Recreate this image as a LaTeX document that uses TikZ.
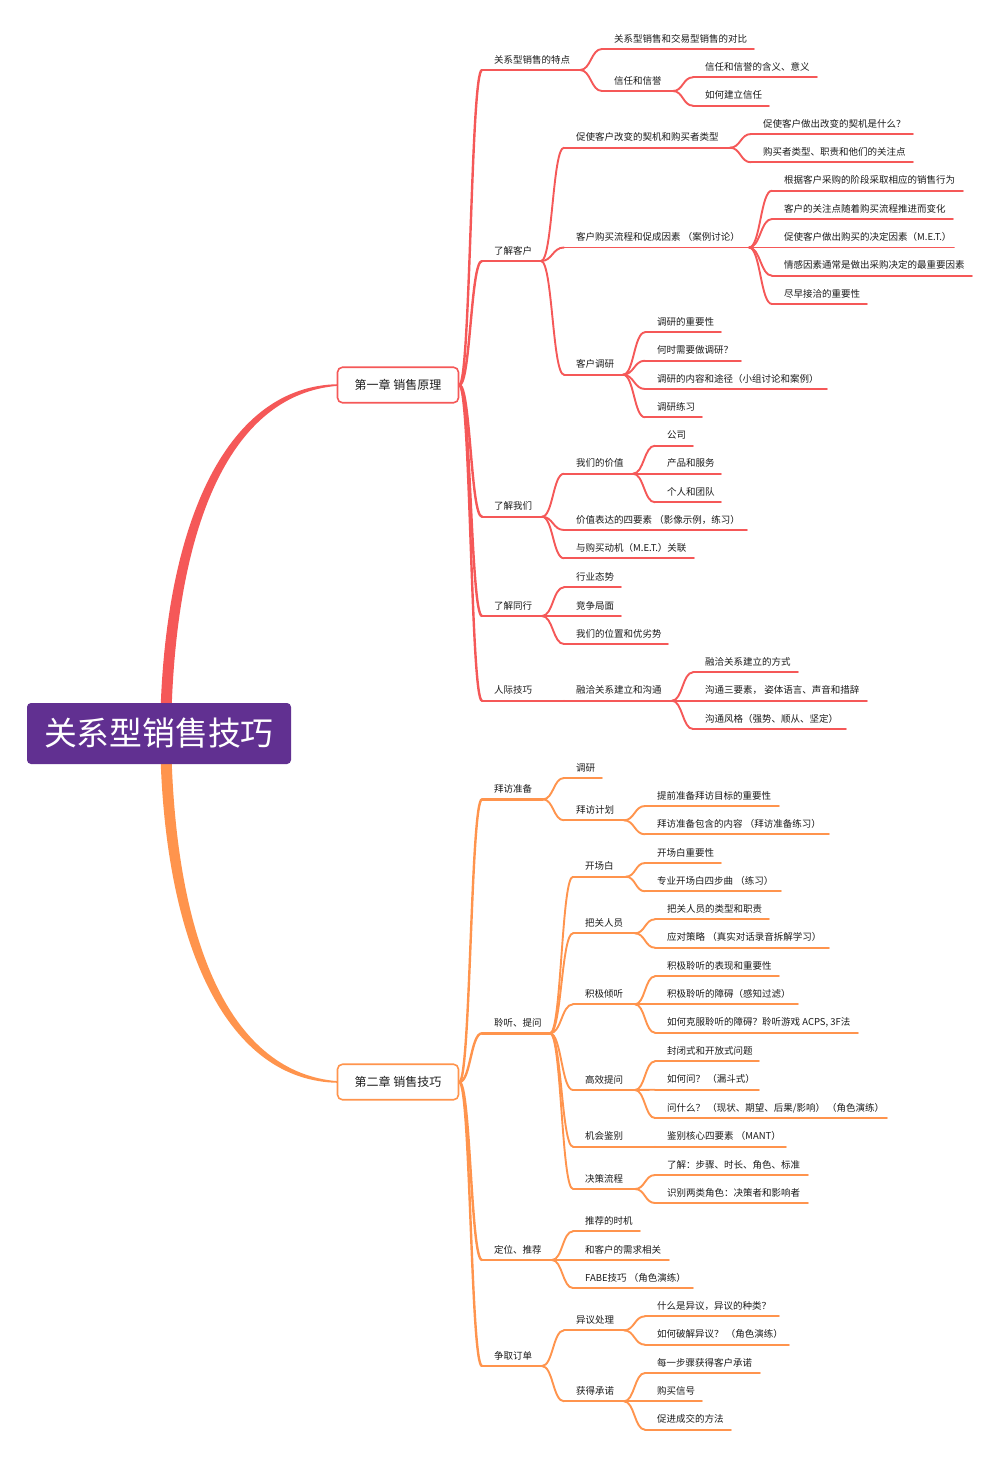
\documentclass[tikz,border=0pt]{standalone}
\usepackage{fontspec}
\newfontfamily\cjk{Noto Sans CJK SC}
\usetikzlibrary{calc}
\definecolor{redb}{RGB}{245,88,88}
\definecolor{orgb}{RGB}{255,148,77}
\definecolor{purp}{RGB}{97,48,145}
\definecolor{txt}{RGB}{28,28,28}
\tikzset{
  leaf/.style={font=\cjk\fontsize{9.5}{11}\selectfont, text=txt, inner sep=0pt, anchor=base west},
  R1/.style={draw=redb, line width=2.4pt, line cap=round},
  R/.style={draw=redb, line width=1.9pt, line cap=round},
  O1/.style={draw=orgb, line width=2.4pt, line cap=round},
  O/.style={draw=orgb, line width=1.9pt, line cap=round},
  chap/.style={draw=#1, line width=1.6pt, fill=white, rounded corners=5pt, minimum width=121pt, minimum height=35.5pt, inner sep=0pt, font=\cjk\fontsize{12}{14}\selectfont, text=txt},
  rootbox/.style={fill=purp, rounded corners=4pt, minimum width=264pt, minimum height=61pt, inner sep=0pt, font=\cjk\fontsize{32.8}{36}\selectfont, text=white}
}
% #1 name, #2 text x, #3 underline y, #4 end x, #5 text, #6 style
\newcommand\mmitem[6]{%
  \coordinate (#1-s) at ({#2-12},#3);
  \coordinate (#1-e) at (#4,#3);
  \path[#6] (#1-s) -- (#1-e);
  \node[leaf] (#1) at (#2,{#3-7}) {#5};
}
% #1 style, #2 from, #3 to
\newcommand\mmlink[3]{%
  \path[#1] let \p1=(#2), \p2=(#3) in (\p1) .. controls ({0.5*(\x1+\x2)},\y1) and ({0.5*(\x1+\x2)},\y2) .. (\p2);
}
\begin{document}
\begin{tikzpicture}[x=1pt,y=-1pt]
\useasboundingbox (0,0) rectangle (1000,1457);
\fill[white] (0,0) rectangle (1000,1457);

% main tapered branches
\fill[redb] (160.5,712) .. controls (166.5,519) and (228,386) .. (338,384.2) -- (338,385.8) .. controls (232,394) and (177.5,521) .. (171.5,712) -- cycle;
\fill[orgb] (160.5,756) .. controls (166.5,949) and (228,1081) .. (338,1082.8) -- (338,1081.2) .. controls (232,1073) and (177.5,947) .. (171.5,756) -- cycle;

\node[rootbox] (root) at (159,733.5) {关系型销售技巧};
\node[chap=redb] (c1) at (398,385) {第一章 销售原理};
\node[chap=orgb] (c2) at (398,1082) {第二章 销售技巧};

% ---------- Chapter 1 ----------
\mmitem{A1}{494}{70}{580}{关系型销售的特点}{R1}
\mmitem{A1a}{614}{49}{754}{关系型销售和交易型销售的对比}{R}
\mmitem{A1b}{614}{91}{673}{信任和信誉}{R}
\mmitem{A1ba}{705}{77.3}{817}{信任和信誉的含义、意义}{R}
\mmitem{A1bb}{705}{105.7}{769}{如何建立信任}{R}
\mmitem{A2}{494}{261}{541}{了解客户}{R1}
\mmitem{A2a}{576}{147.7}{730}{促使客户改变的契机和购买者类型}{R}
\mmitem{A2aa}{763}{134}{913}{促使客户做出改变的契机是什么？}{R}
\mmitem{A2ab}{763}{162.3}{913}{购买者类型、职责和他们的关注点}{R}
\mmitem{A2b}{576}{247.5}{749}{客户购买流程和促成因素 （案例讨论）}{R}
\mmitem{A2ba}{784}{190.7}{963}{根据客户采购的阶段采取相应的销售行为}{R}
\mmitem{A2bb}{784}{219}{953}{客户的关注点随着购买流程推进而变化}{R}
\mmitem{A2bc}{784}{247.5}{954}{促使客户做出购买的决定因素（M.E.T.）}{R}
\mmitem{A2bd}{784}{275.7}{972}{情感因素通常是做出采购决定的最重要因素}{R}
\mmitem{A2be}{784}{304}{867}{尽早接洽的重要性}{R}
\mmitem{A2c}{576}{374.7}{623}{客户调研}{R}
\mmitem{A2ca}{657}{332.3}{721}{调研的重要性}{R}
\mmitem{A2cb}{657}{360.7}{741}{何时需要做调研？}{R}
\mmitem{A2cc}{657}{389}{827}{调研的内容和途径（小组讨论和案例）}{R}
\mmitem{A2cd}{657}{417.3}{702}{调研练习}{R}
\mmitem{A3}{494}{516.7}{542}{了解我们}{R1}
\mmitem{A3a}{576}{473.7}{633}{我们的价值}{R}
\mmitem{A3aa}{667}{445.7}{693}{公司}{R}
\mmitem{A3ab}{667}{473.7}{721}{产品和服务}{R}
\mmitem{A3ac}{667}{502.3}{721}{个人和团队}{R}
\mmitem{A3b}{576}{530}{747}{价值表达的四要素 （影像示例，练习）}{R}
\mmitem{A3c}{576}{558.3}{694}{与购买动机（M.E.T.）关联}{R}
\mmitem{A4}{494}{616}{542}{了解同行}{R1}
\mmitem{A4a}{576}{587.3}{621}{行业态势}{R}
\mmitem{A4b}{576}{616}{621}{竞争局面}{R}
\mmitem{A4c}{576}{644}{668}{我们的位置和优劣势}{R}
\mmitem{A5}{494}{700.7}{564}{人际技巧}{R1}
\mmitem{A5a}{576}{700.7}{672}{融洽关系建立和沟通}{R}
\mmitem{A5aa}{705}{672.3}{798}{融洽关系建立的方式}{R}
\mmitem{A5ab}{705}{700.7}{867}{沟通三要素， 姿体语言、声音和措辞}{R}
\mmitem{A5ac}{705}{729}{846}{沟通风格（强势、顺从、坚定）}{R}

\foreach \t in {A1,A2,A3,A4,A5} {\mmlink{R1}{c1.east}{\t-s}}
\foreach \t in {A1a,A1b} {\mmlink{R}{A1-e}{\t-s}}
\foreach \t in {A1ba,A1bb} {\mmlink{R}{A1b-e}{\t-s}}
\foreach \t in {A2a,A2b,A2c} {\mmlink{R}{A2-e}{\t-s}}
\foreach \t in {A2aa,A2ab} {\mmlink{R}{A2a-e}{\t-s}}
\foreach \t in {A2ba,A2bb,A2bc,A2bd,A2be} {\mmlink{R}{A2b-e}{\t-s}}
\foreach \t in {A2ca,A2cb,A2cc,A2cd} {\mmlink{R}{A2c-e}{\t-s}}
\foreach \t in {A3a,A3b,A3c} {\mmlink{R}{A3-e}{\t-s}}
\foreach \t in {A3aa,A3ab,A3ac} {\mmlink{R}{A3a-e}{\t-s}}
\foreach \t in {A4a,A4b,A4c} {\mmlink{R}{A4-e}{\t-s}}
\mmlink{R}{A5-e}{A5a-s}
\foreach \t in {A5aa,A5ab,A5ac} {\mmlink{R}{A5a-e}{\t-s}}

% ---------- Chapter 2 ----------
\mmitem{B1}{494}{799.3}{543}{拜访准备}{O1}
\mmitem{B1a}{576}{778}{602}{调研}{O}
\mmitem{B1b}{576}{820.3}{624}{拜访计划}{O}
\mmitem{B1ba}{657}{806}{779}{提前准备拜访目标的重要性}{O}
\mmitem{B1bb}{657}{834.3}{829}{拜访准备包含的内容 （拜访准备练习）}{O}
\mmitem{B2}{494}{1033.3}{550}{聆听、提问}{O1}
\mmitem{B2a}{585}{876.7}{626}{开场白}{O}
\mmitem{B2aa}{657}{863}{721}{开场白重要性}{O}
\mmitem{B2ab}{657}{891.3}{781}{专业开场白四步曲 （练习）}{O}
\mmitem{B2b}{585}{933.3}{635}{把关人员}{O}
\mmitem{B2ba}{667}{919.3}{769}{把关人员的类型和职责}{O}
\mmitem{B2bb}{667}{947.7}{829}{应对策略 （真实对话录音拆解学习）}{O}
\mmitem{B2c}{585}{1004.3}{635}{积极倾听}{O}
\mmitem{B2ca}{667}{976.3}{779}{积极聆听的表现和重要性}{O}
\mmitem{B2cb}{667}{1004.3}{798}{积极聆听的障碍（感知过滤）}{O}
\mmitem{B2cc}{667}{1032.7}{858}{如何克服聆听的障碍？聆听游戏 ACPS, 3F法}{O}
\mmitem{B2d}{585}{1090}{635}{高效提问}{O}
\mmitem{B2da}{667}{1061.3}{759}{封闭式和开放式问题}{O}
\mmitem{B2db}{667}{1089.7}{759}{如何问？ （漏斗式）}{O}
\mmitem{B2dc}{667}{1118}{887}{问什么？ （现状、期望、后果/影响） （角色演练）}{O}
\mmitem{B2e}{585}{1146.7}{655}{机会鉴别}{O}
\mmitem{B2ea}{667}{1146.7}{786}{鉴别核心四要素 （MANT）}{O}
\mmitem{B2f}{585}{1189}{635}{决策流程}{O}
\mmitem{B2fa}{667}{1175}{808}{了解：步骤、时长、角色、标准}{O}
\mmitem{B2fb}{667}{1203}{808}{识别两类角色：决策者和影响者}{O}
\mmitem{B3}{494}{1260}{552}{定位、推荐}{O1}
\mmitem{B3a}{585}{1231.3}{640}{推荐的时机}{O}
\mmitem{B3b}{585}{1260}{669}{和客户的需求相关}{O}
\mmitem{B3c}{585}{1288}{693}{FABE技巧 （角色演练）}{O}
\mmitem{B4}{494}{1366}{542}{争取订单}{O1}
\mmitem{B4a}{576}{1330.3}{624}{异议处理}{O}
\mmitem{B4aa}{657}{1316.3}{779}{什么是异议，异议的种类？}{O}
\mmitem{B4ab}{657}{1344.7}{789}{如何破解异议？ （角色演练）}{O}
\mmitem{B4b}{576}{1401.3}{624}{获得承诺}{O}
\mmitem{B4ba}{657}{1373}{760}{每一步骤获得客户承诺}{O}
\mmitem{B4bb}{657}{1401.3}{702}{购买信号}{O}
\mmitem{B4bc}{657}{1429.7}{731}{促进成交的方法}{O}

\foreach \t in {B1,B2,B3,B4} {\mmlink{O1}{c2.east}{\t-s}}
\foreach \t in {B1a,B1b} {\mmlink{O}{B1-e}{\t-s}}
\foreach \t in {B1ba,B1bb} {\mmlink{O}{B1b-e}{\t-s}}
\foreach \t in {B2a,B2b,B2c,B2d,B2e,B2f} {\mmlink{O}{B2-e}{\t-s}}
\foreach \t in {B2aa,B2ab} {\mmlink{O}{B2a-e}{\t-s}}
\foreach \t in {B2ba,B2bb} {\mmlink{O}{B2b-e}{\t-s}}
\foreach \t in {B2ca,B2cb,B2cc} {\mmlink{O}{B2c-e}{\t-s}}
\foreach \t in {B2da,B2db,B2dc} {\mmlink{O}{B2d-e}{\t-s}}
\mmlink{O}{B2e-e}{B2ea-s}
\foreach \t in {B2fa,B2fb} {\mmlink{O}{B2f-e}{\t-s}}
\foreach \t in {B3a,B3b,B3c} {\mmlink{O}{B3-e}{\t-s}}
\foreach \t in {B4a,B4b} {\mmlink{O}{B4-e}{\t-s}}
\foreach \t in {B4aa,B4ab} {\mmlink{O}{B4a-e}{\t-s}}
\foreach \t in {B4ba,B4bb,B4bc} {\mmlink{O}{B4b-e}{\t-s}}
\end{tikzpicture}
\end{document}
